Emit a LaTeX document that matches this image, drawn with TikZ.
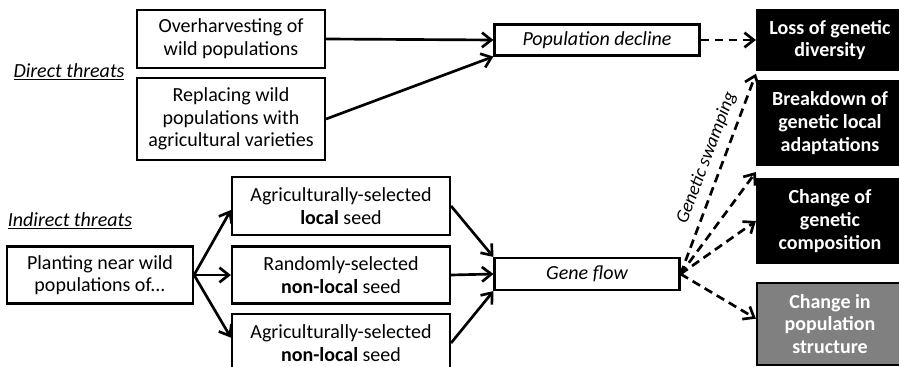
\documentclass[tikz,border=0pt]{standalone}
\usepackage{fontspec}
\setmainfont{Carlito}
\usetikzlibrary{positioning, calc, shapes, arrows.meta}
\tikzstyle{Box} = [
draw, line width=1.6pt, fill=white, align=center,
inner sep=0pt, font=\fontsize{15}{17}\selectfont]
\tikzstyle{Outcome} = [
draw, line width=1.6pt, fill=black, text=white, align=center,
inner sep=0pt, minimum width=109.5pt,
font=\fontsize{15}{17}\selectfont\bfseries]
\tikzstyle{Arrow} = [
line width=2pt,
-{Straight Barb[length=7pt, width=11pt, line width=2pt]}]
\tikzstyle{DashArrow} = [
Arrow, dash pattern=on 6.5pt off 4pt]
\tikzstyle{Label} = [
font=\fontsize{15}{17}\selectfont\itshape]

\begin{document}
\begin{tikzpicture}[x=0.75pt, y=-0.75pt]
    \useasboundingbox (0,0) rectangle (899,367);
    % direct threats
    \node [Label] (0) at (69,72) {\underline{Direct threats}};
    \node [Box, minimum width=141pt, minimum height=43.5pt] (1) at (231,39) {Overharvesting of\\wild populations};
    \node [Box, minimum width=141pt, minimum height=61.5pt] (2) at (231,119) {Replacing wild\\populations with\\agricultural varieties};
    \node [Box, minimum width=153.75pt, minimum height=23.25pt, font=\fontsize{15}{17}\selectfont\itshape] (3) at (597,40) {Population decline};
    % indirect threats
    \node [Label] (4) at (70,221) {\underline{Indirect threats}};
    \node [Box, minimum width=139.5pt, minimum height=42.75pt] (5) at (100,275) {Planting near wild\\populations of...};
    \node [Box, minimum width=163.5pt, minimum height=43.5pt] (6) at (341,206) {Agriculturally-selected\\\textbf{local} seed};
    \node [Box, minimum width=163.5pt, minimum height=42.75pt] (7) at (341,275) {Randomly-selected\\\textbf{non-local} seed};
    \node [Box, minimum width=163.5pt, minimum height=43.5pt] (8) at (341,343) {Agriculturally-selected\\\textbf{non-local} seed};
    \node [Box, minimum width=138.75pt, minimum height=24pt, font=\fontsize{15}{17}\selectfont\itshape] (9) at (587,274) {Gene flow};
    % outcomes
    \node [Outcome, minimum height=45pt] (10) at (830,40) {Loss of genetic\\diversity};
    \node [Outcome, minimum height=62.25pt] (11) at (830,123) {Breakdown of\\genetic local\\adaptations};
    \node [Outcome, minimum height=62.25pt] (12) at (830,221) {Change of\\genetic\\composition};
    \node [Outcome, minimum height=61.5pt, fill=black!50] (13) at (830,324) {Change in\\population\\structure};
    \draw[Arrow] (1.east) -- (3.west);
    \draw[Arrow] (2.east) -- (3.south west);
    \draw[DashArrow] (3.east) -- (10.west);
    \draw[Arrow] (5.east) -- ([yshift=-3pt]6.west);
    \draw[Arrow] (5.east) -- (7.west);
    \draw[Arrow] (5.east) -- ([yshift=4pt]8.west);
    \draw[Arrow] (6.east) -- (9.north west);
    \draw[Arrow] (7.east) -- (9.west);
    \draw[Arrow] (8.east) -- (9.south west);
    \draw[DashArrow] (9.east) -- node[sloped, above, pos=0.55, yshift=2pt, Label, font=\fontsize{14}{16}\selectfont\itshape] {Genetic swamping} ([yshift=-2pt]10.south west);
    \draw[DashArrow] (9.east) -- ($(11.south west)!0.5!(12.north west)$);
    \draw[DashArrow] (9.east) -- (12.west);
    \draw[DashArrow] (9.east) -- ([yshift=4pt]13.west);
\end{tikzpicture}
\end{document}
